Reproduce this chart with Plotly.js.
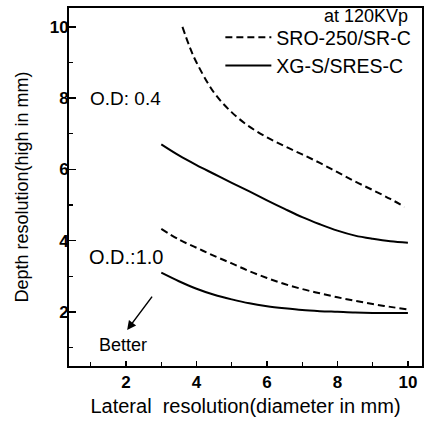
<!DOCTYPE html>
<html>
<head>
<meta charset="utf-8">
<script src="https://cdn.plot.ly/plotly-3.0.1.min.js"></script>
<style>html,body{margin:0;padding:0;background:#fff;}#chart{width:427px;height:423px;}</style>
</head>
<body>
<div id="chart"></div>
<script>
// Data
const sroOD04X = [3.6, 3.8, 4.0, 4.5, 5.0, 5.5, 6.0, 6.5, 7.0, 7.5, 8.0, 8.5, 9.0, 9.5, 9.9];
const sroOD04Y = [10.0, 9.45, 9.0, 8.15, 7.6, 7.2, 6.9, 6.65, 6.42, 6.18, 5.92, 5.66, 5.42, 5.17, 4.95];
const xgOD04X = [3.0, 3.5, 4.0, 4.5, 5.0, 5.5, 6.0, 6.5, 7.0, 7.5, 8.0, 8.5, 9.0, 9.5, 10.0];
const xgOD04Y = [6.70, 6.39, 6.12, 5.87, 5.62, 5.38, 5.13, 4.89, 4.66, 4.46, 4.28, 4.14, 4.05, 3.98, 3.94];
const sroOD10X = [3.0, 3.5, 4.0, 4.5, 5.0, 5.5, 6.0, 6.5, 7.0, 7.5, 8.0, 8.5, 9.0, 9.5, 10.0];
const sroOD10Y = [4.33, 4.03, 3.8, 3.57, 3.36, 3.14, 2.95, 2.78, 2.64, 2.52, 2.41, 2.31, 2.22, 2.14, 2.07];
const xgOD10X = [3.0, 3.5, 4.0, 4.5, 5.0, 5.5, 6.0, 6.5, 7.0, 7.5, 8.0, 8.5, 9.0, 9.5, 10.0];
const xgOD10Y = [3.10, 2.86, 2.65, 2.48, 2.35, 2.24, 2.16, 2.10, 2.05, 2.02, 2.0, 1.98, 1.97, 1.97, 1.97];
const xTickVals = [2, 4, 6, 8, 10];
const yTickVals = [2, 4, 6, 8, 10];
const minorTickVals = [1, 3, 5, 7, 9];
const seriesNames = ['SRO-250/SR-C', 'XG-S/SRES-C'];

const FONT = 'Liberation Sans, Arial, sans-serif';
const dashStyle = {color: '#000', width: 2, dash: '7px,4px', shape: 'spline', smoothing: 1};
const solidStyle = {color: '#000', width: 2, shape: 'spline', smoothing: 1};

const traces = [
  {x: sroOD04X, y: sroOD04Y, mode: 'lines', line: dashStyle, name: seriesNames[0], legendgroup: 'a', showlegend: true},
  {x: xgOD04X, y: xgOD04Y, mode: 'lines', line: solidStyle, name: seriesNames[1], legendgroup: 'b', showlegend: true},
  {x: sroOD10X, y: sroOD10Y, mode: 'lines', line: dashStyle, name: seriesNames[0], legendgroup: 'a', showlegend: false},
  {x: xgOD10X, y: xgOD10Y, mode: 'lines', line: solidStyle, name: seriesNames[1], legendgroup: 'b', showlegend: false}
];

const layout = {
  width: 427, height: 423,
  margin: {l: 69, r: 5, t: 8, b: 57},
  paper_bgcolor: '#fff', plot_bgcolor: '#fff',
  font: {family: FONT, color: '#000', size: 17},
  showlegend: true,
  legend: {x: 0.984, xanchor: 'right', y: 0.972, yanchor: 'top', bgcolor: 'rgba(0,0,0,0)',
    font: {family: FONT, size: 19.5, color: '#000'}, tracegroupgap: 0, itemwidth: 46},
  xaxis: {
    range: [0.38, 10.4], tickvals: xTickVals, ticks: 'inside', ticklen: 5, tickwidth: 1.5, tickcolor: '#000',
    showline: true, linewidth: 2, linecolor: '#000', mirror: true, showgrid: false, zeroline: false,
    tickfont: {family: FONT, size: 17, weight: 'bold'},
    minor: {tickvals: minorTickVals, ticks: 'inside', ticklen: 4, tickwidth: 1.2, tickcolor: '#000'},
    title: {text: 'Lateral\u00a0\u00a0resolution(diameter in mm)', font: {family: FONT, size: 20}, standoff: 8}
  },
  yaxis: {
    range: [0.48, 10.53], tickvals: yTickVals, ticks: 'inside', ticklen: 7, tickwidth: 1.5, tickcolor: '#000',
    showline: true, linewidth: 2, linecolor: '#000', mirror: true, showgrid: false, zeroline: false,
    tickfont: {family: FONT, size: 17, weight: 'bold'}, ticklabelstandoff: -5,
    minor: {tickvals: minorTickVals, ticks: 'inside', ticklen: 4, tickwidth: 1.2, tickcolor: '#000'},
    title: {text: 'Depth resolution(high in mm)', font: {family: FONT, size: 18}, standoff: 16}
  },
  annotations: [
    {text: 'at 120KVp', xref: 'paper', yref: 'paper', x: 0.966, y: 1.012, xanchor: 'right', yanchor: 'top', showarrow: false, font: {family: FONT, size: 18}},
    {text: 'O.D: 0.4', xref: 'x', yref: 'y', x: 1.97, y: 8.0, showarrow: false, font: {family: FONT, size: 19}},
    {text: 'O.D.:1.0', xref: 'x', yref: 'y', x: 2.0, y: 3.54, showarrow: false, font: {family: FONT, size: 20}},
    {text: 'Better', xref: 'x', yref: 'y', x: 1.9, y: 1.08, showarrow: false, font: {family: FONT, size: 18}},
    {text: '', xref: 'x', yref: 'y', x: 2.03, y: 1.49, axref: 'x', ayref: 'y', ax: 2.77, ay: 2.47,
     showarrow: true, arrowhead: 2, arrowsize: 1.2, arrowwidth: 1.5, arrowcolor: '#000'}
  ]
};

Plotly.newPlot('chart', traces, layout, {displayModeBar: false, staticPlot: true});
</script>
</body>
</html>
